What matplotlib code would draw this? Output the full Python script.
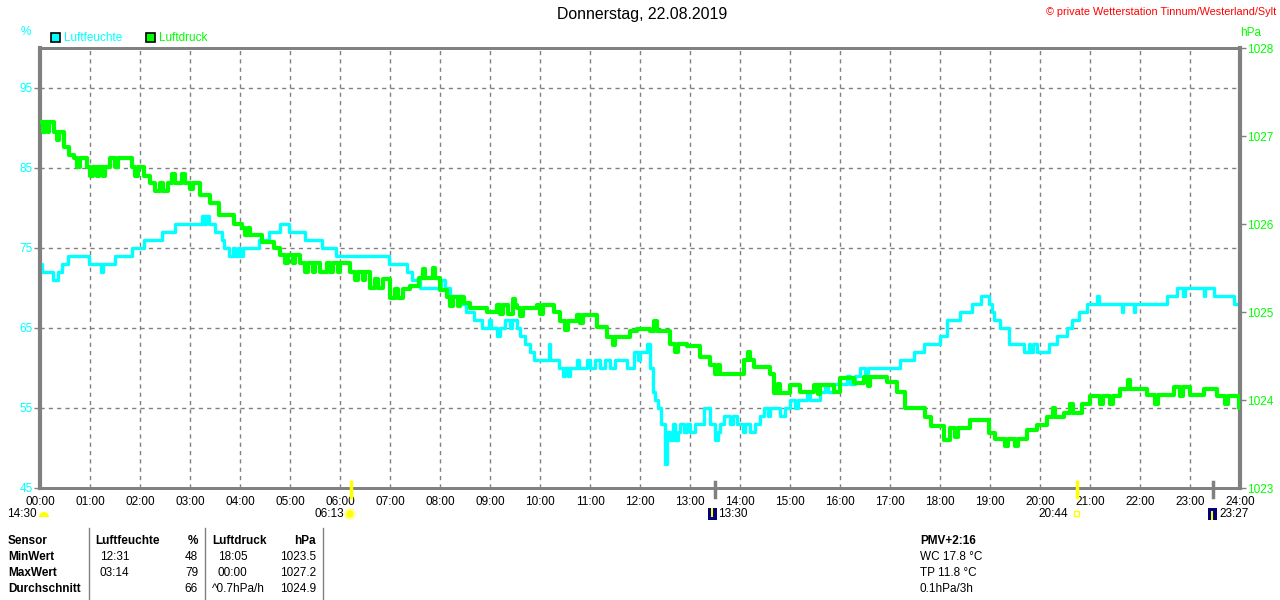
import matplotlib
matplotlib.use("Agg")
import matplotlib.pyplot as plt
from matplotlib.patches import Rectangle, Wedge, Circle
from matplotlib.lines import Line2D
from matplotlib.transforms import IdentityTransform

# ---------------- data ----------------
hum_t = [0, 0.03, 0.25, 0.35, 0.43, 0.55, 0.97, 1.22, 1.26, 1.5, 1.83, 2.07, 2.43, 2.7,
         3.23, 3.28, 3.31, 3.37, 3.5, 3.63, 3.68, 3.77, 3.85, 3.9, 3.95, 4.0, 4.05, 4.37,
         4.57, 4.8, 4.97, 5.3, 5.63, 5.92, 6.97, 7.33, 7.43, 7.6, 8.03, 8.1, 8.2, 8.43,
         8.53, 8.67, 8.83, 8.97, 9.03, 9.13, 9.2, 9.3, 9.4, 9.43, 9.53, 9.6, 9.7, 9.8,
         9.87, 10.17, 10.2, 10.37, 10.45, 10.5, 10.55, 10.6, 10.73, 10.78, 10.93, 11.0,
         11.1, 11.2, 11.3, 11.4, 11.5, 11.73, 11.87, 11.95, 12.0, 12.13, 12.2, 12.25,
         12.3, 12.35, 12.42, 12.5, 12.53, 12.6, 12.65, 12.7, 12.75, 12.8, 12.87, 12.93,
         13.0, 13.1, 13.27, 13.4, 13.5, 13.55, 13.6, 13.67, 13.8, 13.85, 13.93, 14.05,
         14.1, 14.2, 14.3, 14.4, 14.47, 14.55, 14.6, 14.8, 14.9, 15.0, 15.1, 15.15,
         15.33, 15.4, 15.6, 15.7, 15.75, 15.87, 16.13, 16.2, 16.3, 16.4, 16.5, 16.55,
         17.2, 17.47, 17.67, 18.0, 18.13, 18.4, 18.63, 18.83, 18.97, 19.03, 19.07, 19.2,
         19.37, 19.67, 19.77, 19.8, 19.85, 19.93, 20.17, 20.33, 20.53, 20.63, 20.77,
         20.93, 21.13, 21.17, 21.63, 21.66, 21.87, 21.9, 22.53, 22.73, 22.85, 22.9,
         23.27, 23.3, 23.47, 23.87, 24.0]
hum_v = [73, 72, 71, 72, 73, 74, 73, 72, 73, 74, 75, 76, 77, 78,
         79, 78, 79, 78, 77, 76, 75, 74, 75, 74, 75, 74, 75, 76,
         77, 78, 77, 76, 75, 74, 73, 72, 71, 70, 71, 70, 69, 68,
         67, 66, 65, 66, 65, 64, 65, 66, 65, 66, 65, 64, 63, 62,
         61, 63, 61, 60, 59, 60, 59, 60, 61, 60, 61, 60,
         61, 60, 61, 60, 61, 60, 62, 61, 62, 63, 60, 57,
         56, 55, 53, 48, 52, 51, 53, 51, 52, 53, 52, 53,
         52, 53, 55, 53, 51, 52, 53, 54, 53, 54, 53, 52,
         53, 52, 53, 54, 55, 54, 55, 54, 55, 56, 55, 56,
         57, 56, 57, 58, 57, 58, 59, 58, 59, 60, 59, 60,
         61, 62, 63, 64, 66, 67, 68, 69, 68, 67, 66, 65,
         63, 62, 63, 62, 63, 62, 63, 64, 65, 66, 67,
         68, 69, 68, 67, 68, 67, 68, 69, 70, 69, 70,
         69, 70, 69, 68, 68]

pres_t = [0, 0.06, 0.09, 0.15, 0.18, 0.27, 0.33, 0.37, 0.47, 0.57, 0.67, 0.73, 0.8,
          0.93, 1.0, 1.05, 1.13, 1.17, 1.25, 1.3, 1.4, 1.5, 1.55, 1.83, 1.9, 1.95,
          2.07, 2.2, 2.3, 2.4, 2.45, 2.55, 2.63, 2.7, 2.83, 2.9, 3.0, 3.05, 3.2,
          3.4, 3.57, 3.87, 4.03, 4.1, 4.15, 4.2, 4.3, 4.43, 4.67, 4.8, 4.9, 4.95,
          5.05, 5.1, 5.2, 5.3, 5.35, 5.45, 5.5, 5.6, 5.73, 5.8, 5.85, 5.95, 6.0,
          6.2, 6.3, 6.35, 6.45, 6.5, 6.6, 6.7, 6.75, 6.85, 7.0, 7.1, 7.15, 7.25,
          7.4, 7.57, 7.65, 7.7, 7.85, 7.9, 8.0, 8.13, 8.2, 8.25, 8.35, 8.4, 8.47,
          8.6, 8.93, 9.13, 9.2, 9.25, 9.35, 9.45, 9.5, 9.53, 9.6, 9.65, 9.93, 10.0,
          10.05, 10.27, 10.4, 10.5, 10.55, 10.73, 10.8, 10.85, 11.13, 11.33, 11.45,
          11.5, 11.8, 11.93, 12.2, 12.27, 12.33, 12.6, 12.7, 12.75, 12.93, 13.2,
          13.4, 13.5, 13.55, 13.6, 14.07, 14.15, 14.2, 14.27, 14.6, 14.67, 14.75,
          14.8, 15.0, 15.2, 15.47, 15.55, 15.6, 15.87, 16.0, 16.27, 16.47, 16.55,
          16.6, 16.93, 17.13, 17.3, 17.7, 17.83, 18.07, 18.2, 18.3, 18.35, 18.6,
          18.97, 19.1, 19.3, 19.35, 19.5, 19.55, 19.73, 19.93, 20.13, 20.25, 20.3,
          20.47, 20.6, 20.65, 20.83, 21.0, 21.2, 21.25, 21.4, 21.45, 21.6, 21.75,
          21.8, 22.13, 22.3, 22.35, 22.67, 22.8, 22.85, 23.0, 23.27, 23.53, 23.7,
          23.75, 23.97, 24.0]
pres_v = [1027.16, 1027.05, 1027.16, 1027.05, 1027.16, 1027.05, 1026.95, 1027.05,
          1026.88, 1026.78, 1026.75, 1026.65, 1026.75,
          1026.65, 1026.55, 1026.65, 1026.55, 1026.65, 1026.55, 1026.65, 1026.75,
          1026.65, 1026.75, 1026.65, 1026.55, 1026.65,
          1026.54, 1026.47, 1026.37, 1026.47, 1026.37, 1026.47, 1026.57, 1026.47,
          1026.57, 1026.47, 1026.40, 1026.47, 1026.33,
          1026.24, 1026.10, 1026.00, 1025.95, 1025.87, 1025.95, 1025.87, 1025.88,
          1025.80, 1025.73, 1025.65, 1025.56, 1025.65,
          1025.56, 1025.65, 1025.56, 1025.46, 1025.56, 1025.46, 1025.56, 1025.46,
          1025.56, 1025.46, 1025.56, 1025.46, 1025.56,
          1025.46, 1025.36, 1025.46, 1025.36, 1025.46, 1025.27, 1025.37, 1025.27,
          1025.37, 1025.16, 1025.26, 1025.16, 1025.26,
          1025.29, 1025.39, 1025.49, 1025.39, 1025.50, 1025.39, 1025.25, 1025.17,
          1025.07, 1025.17, 1025.07, 1025.17, 1025.10,
          1025.05, 1025.00, 1025.08, 1024.98, 1025.08, 1024.98, 1025.15, 1025.08,
          1025.05, 1024.95, 1025.05, 1025.08, 1024.98,
          1025.08, 1025.00, 1024.90, 1024.80, 1024.90, 1024.97, 1024.87, 1024.97,
          1024.83, 1024.72, 1024.62, 1024.72, 1024.78, 1024.81, 1024.78, 1024.90,
          1024.78, 1024.64, 1024.54, 1024.64, 1024.61, 1024.49,
          1024.40, 1024.30, 1024.40, 1024.30, 1024.45, 1024.55, 1024.45, 1024.38,
          1024.30, 1024.08, 1024.18, 1024.08,
          1024.17, 1024.09, 1024.17, 1024.07, 1024.17, 1024.09, 1024.25, 1024.19,
          1024.26, 1024.16, 1024.26, 1024.20, 1024.09, 1023.91, 1023.81, 1023.70,
          1023.55, 1023.68, 1023.58, 1023.68, 1023.77, 1023.62, 1023.56, 1023.48,
          1023.56, 1023.48, 1023.56, 1023.66, 1023.72, 1023.81, 1023.91, 1023.81,
          1023.85, 1023.95, 1023.85, 1023.96, 1024.04, 1023.96, 1024.04, 1023.96,
          1024.04, 1024.13, 1024.23, 1024.13, 1024.06, 1023.96, 1024.06, 1024.15,
          1024.05, 1024.15, 1024.06, 1024.13, 1024.04, 1023.96, 1024.04, 1023.91,
          1023.91]

hour_ticks = list(range(25))
hour_labels = [f"{h:02d}:00" for h in hour_ticks]
hum_ticks = [45, 55, 65, 75, 85, 95]
pres_ticks = [1023, 1024, 1025, 1026, 1027, 1028]

# ---------------- figure ----------------
W, H = 1280, 600
fig = plt.figure(figsize=(12.8, 6), dpi=100)
plt.rcParams['font.family'] = ['Liberation Sans', 'DejaVu Sans']
FS = 8.5
CYAN = '#00FFFF'
GREEN = '#00FF00'
GRAY = '#808080'

def fx(x):
    return x / W

def fy(y):
    return 1 - y / H

ax = fig.add_axes([fx(40), fy(488), 1200 / W, 440 / H])
ax.set_xlim(0, 24)
ax.set_ylim(45, 100)
ax2 = ax.twinx()
ax2.set_ylim(1023, 1028)

for a in (ax, ax2):
    for s in a.spines.values():
        s.set_color(GRAY)
        s.set_linewidth(2)
ax.spines['left'].set_linewidth(3)
ax2.spines['right'].set_linewidth(3)

ax.set_xticks(hour_ticks)
ax.set_xticklabels(hour_labels, fontsize=FS, color='black')
ax.tick_params(axis='x', length=0, pad=6)
ax.set_yticks(hum_ticks)
ax.set_yticklabels([str(v) for v in hum_ticks], fontsize=FS, color=CYAN)
ax.tick_params(axis='y', length=4, color=GRAY, width=1, pad=1)
ax2.set_yticks(pres_ticks)
ax2.set_yticklabels([str(v) for v in pres_ticks], fontsize=FS, color=GREEN)
ax2.tick_params(axis='y', length=4, color=GRAY, width=1, pad=1)

ax.grid(True, color=GRAY, linestyle=(0, (3, 3)), linewidth=1)
ax.set_axisbelow(True)

ax.plot(hum_t, hum_v, drawstyle='steps-post', color=CYAN, linewidth=2.4, zorder=3)
ax2.plot(pres_t, pres_v, drawstyle='steps-post', color=GREEN, linewidth=3.0, zorder=3)

# ---------------- texts ----------------
fig.text(fx(642), fy(15), "Donnerstag, 22.08.2019", fontsize=11.4, ha='center', va='center')
fig.text(fx(1276), fy(12), "© private Wetterstation Tinnum/Westerland/Sylt", fontsize=7.8,
         color='red', ha='right', va='center')
fig.text(fx(26), fy(32), "%", fontsize=FS, color=CYAN, ha='center', va='center')
fig.text(fx(1240), fy(33), "hPa", fontsize=FS, color=GREEN, ha='left', va='center')

idt = IdentityTransform()

def prect(x, y, w, h, fc, ec='none', lw=0):
    fig.add_artist(Rectangle((x, H - y - h), w, h, facecolor=fc, edgecolor=ec,
                             linewidth=lw, transform=idt))

prect(51, 33, 9, 9, CYAN, 'black', 1.2)
fig.text(fx(64), fy(38), "Luftfeuchte", fontsize=FS, color=CYAN, ha='left', va='center')
prect(146, 33, 9, 9, GREEN, 'black', 1.2)
fig.text(fx(159), fy(38), "Luftdruck", fontsize=FS, color=GREEN, ha='left', va='center')

# sun / moon markers on the time axis
for xh, col in [(6.217, '#FFFF00'), (13.5, GRAY), (20.733, '#FFFF00'), (23.45, GRAY)]:
    xp = 40 + xh * 50
    fig.add_artist(Line2D([xp, xp], [H - 482, H - 497], color=col, linewidth=2.5,
                          transform=idt))

fig.text(fx(37), fy(514), "14:30", fontsize=FS, ha='right', va='center')
fig.add_artist(Wedge((44, H - 517), 5, 0, 180, facecolor='#FFFF00', transform=idt))
fig.text(fx(344), fy(514), "06:13", fontsize=FS, ha='right', va='center')
fig.add_artist(Circle((350, H - 514), 6, facecolor='#FFFFA0', edgecolor='none', transform=idt))
fig.add_artist(Circle((350, H - 514), 3.5, facecolor='#FFFF00', edgecolor='none', transform=idt))
prect(708, 508, 9, 12, '#000080')
fig.add_artist(Line2D([712, 712], [H - 509, H - 516], color='#FFFF00', linewidth=1.5, transform=idt))
fig.text(fx(718), fy(514), "13:30", fontsize=FS, ha='left', va='center')
fig.text(fx(1068), fy(514), "20:44", fontsize=FS, ha='right', va='center')
prect(1074, 511, 5, 5, 'none', '#FFFF00', 1)
prect(1208, 508, 9, 12, '#000080')
fig.add_artist(Line2D([1212, 1212], [H - 512, H - 519], color='#FFFF00', linewidth=1.5, transform=idt))
fig.text(fx(1219), fy(514), "23:27", fontsize=FS, ha='left', va='center')

# ---------------- table ----------------
for xl in (89, 205, 323):
    fig.add_artist(Line2D([xl, xl], [H - 528, 0], color=GRAY, linewidth=1, transform=idt))

rows_y = [541, 557, 573, 589]
row_names = ["Sensor", "MinWert", "MaxWert", "Durchschnitt"]
hum_times = ["Luftfeuchte", "12:31", "03:14", ""]
hum_vals = ["%", "48", "79", "66"]
pres_times = ["Luftdruck", "18:05", "00:00", "^0.7hPa/h"]
pres_vals = ["hPa", "1023.5", "1027.2", "1024.9"]
side_info = ["PMV+2:16", "WC 17.8 °C", "TP 11.8 °C", "0.1hPa/3h"]

for i, y in enumerate(rows_y):
    head = (i == 0)
    fig.text(fx(8), fy(y), row_names[i], fontsize=FS, fontweight='bold', ha='left', va='center')
    fig.text(fx(95 if head else 100), fy(y), hum_times[i], fontsize=FS,
             fontweight='bold' if head else 'normal', ha='left', va='center')
    fig.text(fx(198), fy(y), hum_vals[i], fontsize=FS,
             fontweight='bold' if head else 'normal', ha='right', va='center')
    fig.text(fx(212 if (head or i == 3) else 218), fy(y), pres_times[i], fontsize=FS,
             fontweight='bold' if head else 'normal', ha='left', va='center')
    fig.text(fx(316), fy(y), pres_vals[i], fontsize=FS,
             fontweight='bold' if head else 'normal', ha='right', va='center')
    fig.text(fx(920), fy(y), side_info[i], fontsize=FS,
             fontweight='bold' if head else 'normal', ha='left', va='center')

fig.savefig("out.png", dpi=100)
